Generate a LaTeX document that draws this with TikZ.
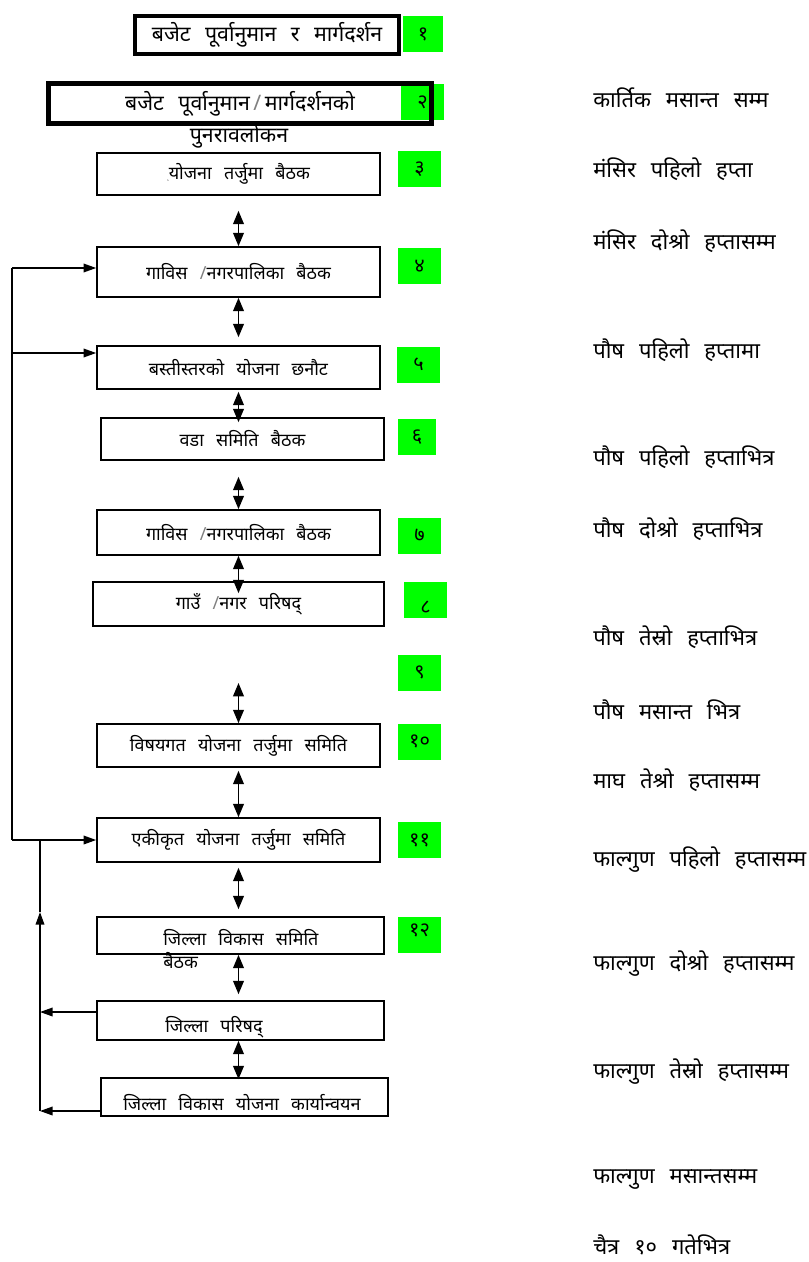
\documentclass[tikz,border=0pt]{standalone}
\usepackage{fontspec}
\setmainfont{Noto Sans}
\newfontfamily\deva[Script=Devanagari, WordSpace=2.6]{Noto Sans}
\usetikzlibrary{arrows.meta}
\definecolor{lime}{RGB}{0,255,0}
\begin{document}
\begin{tikzpicture}[x=0.75pt,y=-0.75pt,
  box/.style={draw, line width=1.2pt, minimum width=283*0.75pt, inner sep=0pt,
    font=\deva\fontsize{13.5}{15}\selectfont},
  thickbox/.style={draw, line width=3.6pt, inner sep=0pt,
    font=\deva\fontsize{16}{18}\selectfont},
  txt/.style={inner sep=0pt, font=\deva\fontsize{13.5}{17.5}\selectfont},
  num/.style={fill=lime, inner sep=0pt, minimum width=43*0.75pt, minimum height=36*0.75pt,
    font=\deva\fontsize{15}{16}\selectfont},
  rt/.style={anchor=west, inner sep=0pt, font=\deva\fontsize{16.5}{18}\selectfont},
  dbl/.style={line width=1.3pt, {Triangle[length=10pt,width=8pt]}-{Triangle[length=10pt,width=8pt]}},
  arr/.style={line width=1.1pt, -{Triangle[length=9.5pt,width=6.5pt]}},
  ln/.style={line width=1.1pt}]
\useasboundingbox (0,0) rectangle (808,1262);

% green number boxes
\node[num, minimum width=40*0.75pt] (g1) at (423,34) {१};
\node[num] (g2) at (422.5,102) {२};
\node[num] (g3) at (419.5,169) {३};
\node[num] (g4) at (419.5,266) {४};
\node[num] (g5) at (418.5,364.5) {५};
\node[num, minimum width=38*0.75pt] (g6) at (417,437) {६};
\node[num] (g7) at (419.5,535.5) {\raisebox{-6pt}{७}};
\node[num, text depth=0pt] (g8) at (425.5,600) {\raisebox{-10pt}{८}};
\node[num] (g9) at (419.5,672.5) {९};
\node[num] (g10) at (419.5,741.5) {१०};
\node[num] (g11) at (419.5,840) {११};
\node[num] (g12) at (419.5,934.5) {\raisebox{6pt}{१२}};

% main boxes
\node[thickbox, minimum width=264*0.75pt, minimum height=38*0.75pt] (b1) at (267,35) {बजेट पूर्वानुमान र मार्गदर्शन};
\node[thickbox, minimum width=383*0.75pt, minimum height=40*0.75pt] (b2) at (240,103.5) {\raisebox{-3pt}{बजेट पूर्वानुमान\,{\color{gray}/}\,मार्गदर्शनको}};
\node[txt, font=\deva\fontsize{16}{18}\selectfont] (b2t) at (239,136) {पुनरावलोकन};
\node[box, minimum height=42*0.75pt] (b3) at (238.5,174) {{\tiny ͺ}योजना तर्जुमा बैठक};
\node[box, minimum height=50*0.75pt] (b4) at (238.5,272) {गाविस {\color{gray}/}नगरपालिका बैठक};
\node[box, minimum height=43*0.75pt] (b5) at (238.5,367.5) {बस्तीस्तरको योजना छनौट};
\node[box, minimum height=42*0.75pt] (b6) at (242.5,439) {वडा समिति बैठक};
\node[box, minimum height=45*0.75pt] (b7) at (238.5,532.5) {गाविस {\color{gray}/}नगरपालिका बैठक};
\node[box, minimum width=291*0.75pt, minimum height=44*0.75pt] (b8) at (238.5,604) {गाउँ {\color{gray}/}नगर परिषद्};
\node[box, minimum height=43*0.75pt] (b10) at (238.5,745.5) {विषयगत योजना तर्जुमा समिति};
\node[box, minimum height=44*0.75pt] (b11) at (238.5,840) {एकीकृत योजना तर्जुमा समिति};
\node[box, minimum width=287*0.75pt, minimum height=37*0.75pt] (b12) at (240.5,935.5) {};
\node[txt, anchor=north west, align=left] (t12) at (163,929) {जिल्ला विकास समिति\\बैठक};
\node[box, minimum width=287*0.75pt, minimum height=39*0.75pt] (b13) at (240.5,1020.5) {};
\node[txt, anchor=west] (t13) at (165,1027) {जिल्ला परिषद्};
\node[box, minimum width=287*0.75pt, minimum height=38*0.75pt] (b14) at (244.5,1097) {};
\node[txt, anchor=west] (t14) at (123,1103) {जिल्ला विकास योजना कार्यान्वयन};

% double arrows between boxes
\draw[dbl, shorten <=11.25pt] (b3.south) -- (b3.south |- b4.north);
\draw[dbl, shorten >=6pt] (b4.south) -- (b4.south |- b5.north);
\draw[dbl, shorten <=1.5pt, shorten >=-3.75pt] (b5.south) -- (b5.south |- b6.north);
\draw[dbl, shorten <=12pt] (b7.south |- b6.south) -- (b7.north);
\draw[dbl, shorten >=-9pt] (b7.south) -- (b7.south |- b8.north);
\coordinate (c9) at (238.5,683);
\draw[dbl] (c9) -- (b10.north);
\draw[dbl, shorten <=2.25pt] (b10.south) -- (b11.north);
\draw[dbl, shorten <=3.75pt, shorten >=5.25pt] (b11.south) -- (b11.south |- b12.north);
\draw[dbl, shorten >=4.5pt] (b11.south |- b12.south) -- (b11.south |- b13.north);
\draw[dbl, shorten >=-1.5pt] (b11.south |- b13.south) -- (b11.south |- b14.north);

% left feedback line 1
\coordinate (l1top) at (12,268);
\coordinate (l1mid) at (12,353);
\coordinate (l1bot) at (12,840);
\draw[ln] (l1top) -- (l1bot);
\draw[arr] (l1top) -- (l1top -| b4.west);
\draw[arr] (l1mid) -- (l1mid -| b5.west);
\draw[arr] (l1bot) -- (l1bot -| b11.west);

% left feedback line 2
\coordinate (l2top) at (40,840);
\coordinate (l2tip) at (40,912);
\coordinate (l2a) at (40,1012);
\coordinate (l2b) at (40,1111);
\draw[ln] (l2tip) -- (l2top);
\draw[arr] (l2b) -- (l2tip);
\draw[arr] (l2a -| b13.west) -- (l2a);
\draw[arr] (l2b -| b14.west) -- (l2b);

% right column
\node[rt] (r1) at (593,98) {कार्तिक मसान्त सम्म};
\node[rt] (r2) at (593,169) {मंसिर पहिलो हप्ता};
\node[rt] (r3) at (593,241) {मंसिर दोश्रो हप्तासम्म};
\node[rt] (r4) at (593,350) {पौष पहिलो हप्तामा};
\node[rt] (r5) at (593,457) {पौष पहिलो हप्ताभित्र};
\node[rt] (r6) at (593,529) {पौष दोश्रो हप्ताभित्र};
\node[rt] (r7) at (593,637) {पौष तेस्रो हप्ताभित्र};
\node[rt] (r8) at (593,710) {पौष मसान्त भित्र};
\node[rt] (r9) at (593,780) {माघ तेश्रो हप्तासम्म};
\node[rt] (r10) at (593,860) {फाल्गुण पहिलो हप्तासम्म};
\node[rt] (r11) at (593,964) {फाल्गुण दोश्रो हप्तासम्म};
\node[rt] (r12) at (593,1072) {फाल्गुण तेस्रो हप्तासम्म};
\node[rt] (r13) at (593,1180) {फाल्गुण मसान्तसम्म};
\node[rt] (r14) at (593,1245) {चैत्र १० गतेभित्र};
\end{tikzpicture}
\end{document}
